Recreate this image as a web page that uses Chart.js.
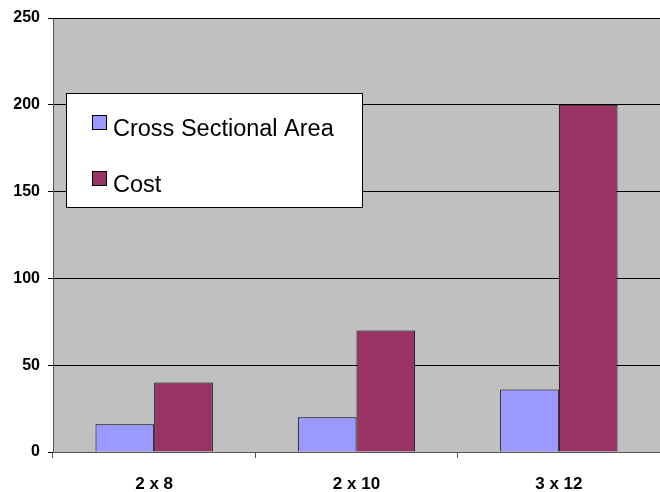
<!DOCTYPE html>
<html>
<head>
<meta charset="utf-8">
<script src="https://cdn.jsdelivr.net/npm/chart.js@4"></script>
<style>
  html, body { margin: 0; padding: 0; background: #fff; }
  #wrap { width: 660px; height: 492px; }
</style>
</head>
<body>
<div id="wrap"><canvas id="lumberChart" width="660" height="492"></canvas></div>
<script>
const categories = ['2 x 8', '2 x 10', '3 x 12'];
const areaValues = [16, 20, 36];
const costValues = [40, 70, 200];
const yTicks = [0, 50, 100, 150, 200, 250];

// gray plot background
const plotBg = {
    id: 'plotBg',
    beforeDraw(chart) {
        const a = chart.chartArea, ctx = chart.ctx;
        ctx.save();
        ctx.fillStyle = '#C0C0C0';
        ctx.fillRect(a.left, a.top, a.right - a.left, a.bottom - a.top);
        ctx.restore();
    }
};

// legend box drawn inside the plot, like the original
const boxLegend = {
    id: 'boxLegend',
    afterDraw(chart) {
        const ctx = chart.ctx;
        const x = 66, y = 93, w = 296, h = 114;
        ctx.save();
        ctx.fillStyle = '#fff';
        ctx.fillRect(x, y, w, h);
        ctx.strokeStyle = '#000';
        ctx.lineWidth = 1;
        ctx.strokeRect(x + 0.5, y + 0.5, w, h);
        ctx.font = '23.5px "Liberation Sans", Arial, sans-serif';
        ctx.textBaseline = 'alphabetic';
        chart.data.datasets.forEach((ds, i) => {
            const base = 136 + i * 56;
            ctx.fillStyle = ds.backgroundColor;
            ctx.fillRect(93, base - 20, 13, 13);
            ctx.strokeStyle = '#000';
            ctx.strokeRect(92.5, base - 20.5, 14, 14);
            ctx.fillStyle = '#000';
            ctx.fillText(ds.label, 113, base);
        });
        ctx.restore();
    }
};

new Chart(document.getElementById('lumberChart'), {
    type: 'bar',
    data: {
        labels: categories,
        datasets: [
            {
                label: 'Cross Sectional Area',
                data: areaValues,
                backgroundColor: '#9999FF',
                borderColor: '#000',
                borderWidth: 1,
                categoryPercentage: 0.58,
                barPercentage: 1
            },
            {
                label: 'Cost',
                data: costValues,
                backgroundColor: '#993366',
                borderColor: '#000',
                borderWidth: 1,
                categoryPercentage: 0.58,
                barPercentage: 1
            }
        ]
    },
    options: {
        responsive: false,
        animation: false,
        layout: { padding: { top: 18, right: 0, left: 0, bottom: 0 } },
        plugins: {
            legend: { display: false },
            tooltip: { enabled: false }
        },
        scales: {
            x: {
                grid: {
                    offset: true,
                    drawOnChartArea: false,
                    color: '#555',
                    tickLength: 6
                },
                border: { color: '#555', width: 1 },
                ticks: {
                    color: '#000',
                    font: { family: '"Liberation Sans", Arial, sans-serif', size: 17, weight: 'bold' },
                    padding: 16
                },
                afterFit(scale) { scale.height = 40; }
            },
            y: {
                min: 0,
                max: 250,
                afterBuildTicks(scale) { scale.ticks = yTicks.map(v => ({ value: v })); },
                grid: {
                    color: '#000',
                    tickLength: 5,
                    tickColor: '#000'
                },
                border: { color: '#555', width: 1 },
                ticks: {
                    color: '#000',
                    font: { family: '"Liberation Sans", Arial, sans-serif', size: 16, weight: 'bold' },
                    padding: 8
                },
                afterFit(scale) { scale.width = 53; }
            }
        }
    },
    plugins: [plotBg, boxLegend]
});
</script>
</body>
</html>
